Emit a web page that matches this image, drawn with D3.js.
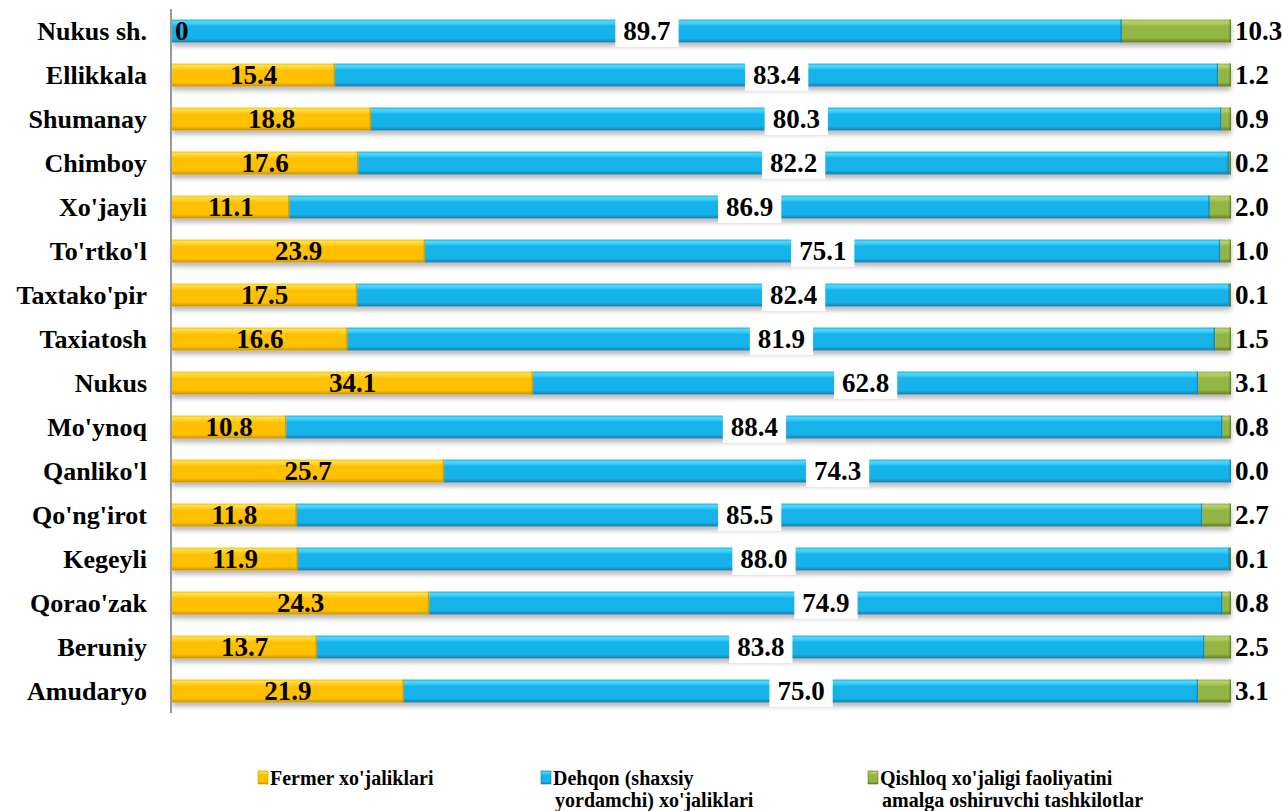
<!DOCTYPE html>
<html><head><meta charset="utf-8">
<script src="https://cdn.jsdelivr.net/npm/d3@7"></script>
</head><body style="margin:0;background:#fff">
<svg id="c" width="1282" height="811" font-family="Liberation Serif" font-weight="bold"></svg>
<script>
const categories = ["Nukus sh.","Ellikkala","Shumanay","Chimboy","Xo'jayli","To'rtko'l","Taxtako'pir","Taxiatosh","Nukus","Mo'ynoq","Qanliko'l","Qo'ng'irot","Kegeyli","Qorao'zak","Beruniy","Amudaryo"];
const fermer = [0,15.4,18.8,17.6,11.1,23.9,17.5,16.6,34.1,10.8,25.7,11.8,11.9,24.3,13.7,21.9];
const dehqon = [89.7,83.4,80.3,82.2,86.9,75.1,82.4,81.9,62.8,88.4,74.3,85.5,88.0,74.9,83.8,75.0];
const qishloq = [10.3,1.2,0.9,0.2,2.0,1.0,0.1,1.5,3.1,0.8,0.0,2.7,0.1,0.8,2.5,3.1];
const seriesNames = ["Fermer xo'jaliklari","Dehqon (shaxsiy|yordamchi) xo'jaliklari","Qishloq xo'jaligi faoliyatini|amalga oshiruvchi tashkilotlar"];

const FONT = "Liberation Serif";
const svg = d3.select("#c");
const x = d3.scaleLinear().domain([0,100]).range([172,1231]);
const y = d3.scaleBand().domain(categories).range([9,713]).paddingInner(0.48).paddingOuter(0.24);

const cols = [
  {light:"#FFE14D", main:"#FFC000", dark:"#C99400", id:"gY"},
  {light:"#4FDBFF", main:"#19B2EA", dark:"#127FAE", id:"gB"},
  {light:"#B7D46A", main:"#93B544", dark:"#5F7A22", id:"gG"}
];
const defs = svg.append("defs");
cols.forEach(c=>{
  const g = defs.append("linearGradient").attr("id",c.id).attr("x1",0).attr("y1",0).attr("x2",0).attr("y2",1);
  g.append("stop").attr("offset","0%").attr("stop-color",c.main);
  g.append("stop").attr("offset","10%").attr("stop-color",c.light);
  g.append("stop").attr("offset","30%").attr("stop-color",c.main);
  g.append("stop").attr("offset","82%").attr("stop-color",c.main);
  g.append("stop").attr("offset","100%").attr("stop-color",c.dark);
});
const f = defs.append("filter").attr("id","sh").attr("x","-5%").attr("y","-50%").attr("width","110%").attr("height","220%");
f.append("feDropShadow").attr("dx",0).attr("dy",4).attr("stdDeviation",2.5).attr("flood-color","#000").attr("flood-opacity",0.28);

const data = categories.map((c,i)=>({c, v:[fermer[i],dehqon[i],qishloq[i]]}));
const bh = y.bandwidth();

data.forEach(d=>{
  let acc = 0;
  const g = svg.append("g").attr("filter","url(#sh)");
  d.v.forEach((v,k)=>{
    const x0 = x(acc), x1 = x(acc+v);
    acc += v;
    if (x1 - x0 <= 0) return;
    g.append("rect").attr("x",x0).attr("y",y(d.c)).attr("width",x1-x0).attr("height",bh)
      .attr("fill",`url(#${cols[k].id})`);
    g.append("rect").attr("x",Math.max(x0,x1-1.5)).attr("y",y(d.c)).attr("width",Math.min(1.5,x1-x0)).attr("height",bh).attr("fill",cols[k].dark).attr("opacity",0.8);
  });
});

svg.append("line").attr("x1",171).attr("x2",171).attr("y1",9).attr("y2",713).attr("stroke","#999").attr("stroke-width",2);

function txt(sel){ return sel.attr("font-family",FONT).style("font-family",FONT).attr("font-weight","bold").attr("fill","#000"); }

svg.append("g").selectAll("text").data(categories).join("text")
  .attr("x",147).attr("y",d=>y(d)+bh/2).attr("dy","0.35em").attr("text-anchor","end")
  .attr("font-size",26).call(txt).text(d=>d);

data.forEach(d=>{
  const cy = y(d.c)+bh/2;
  const v0 = d.v[0];
  if (v0 === 0) {
    svg.append("text").attr("x",x(0)+3).attr("y",cy).attr("dy","0.35em").attr("font-size",27).call(txt).text("0");
  } else {
    svg.append("text").attr("x",(x(0)+x(v0))/2).attr("y",cy).attr("dy","0.35em").attr("text-anchor","middle").attr("font-size",27).call(txt).text(v0.toFixed(1));
  }
  const cx = (x(v0)+x(v0+d.v[1]))/2;
  const t = svg.append("text").attr("x",cx).attr("y",cy).attr("dy","0.35em").attr("text-anchor","middle").attr("font-size",27).call(txt).text(d.v[1].toFixed(1));
  const bb = t.node().getBBox();
  svg.insert("rect", () => t.node()).attr("x",bb.x-8).attr("y",cy-16).attr("width",bb.width+16).attr("height",32).attr("fill","#fff");
  svg.append("text").attr("x",1235).attr("y",cy).attr("dy","0.35em").attr("font-size",27).call(txt).text(d.v[2].toFixed(1));
});

const legX = [258,541,868];
seriesNames.forEach((n,k)=>{
  const g = svg.append("g");
  g.append("rect").attr("x",legX[k]).attr("y",771).attr("width",10).attr("height",13).attr("fill",`url(#${cols[k].id})`).attr("stroke",cols[k].dark).attr("stroke-width",0.6);
  n.split("|").forEach((line,j)=>{
    g.append("text").attr("x",legX[k]+12+(j>0?2:0)).attr("y",785+j*22).attr("font-size",20).call(txt).text(line);
  });
});
</script>
</body></html>
